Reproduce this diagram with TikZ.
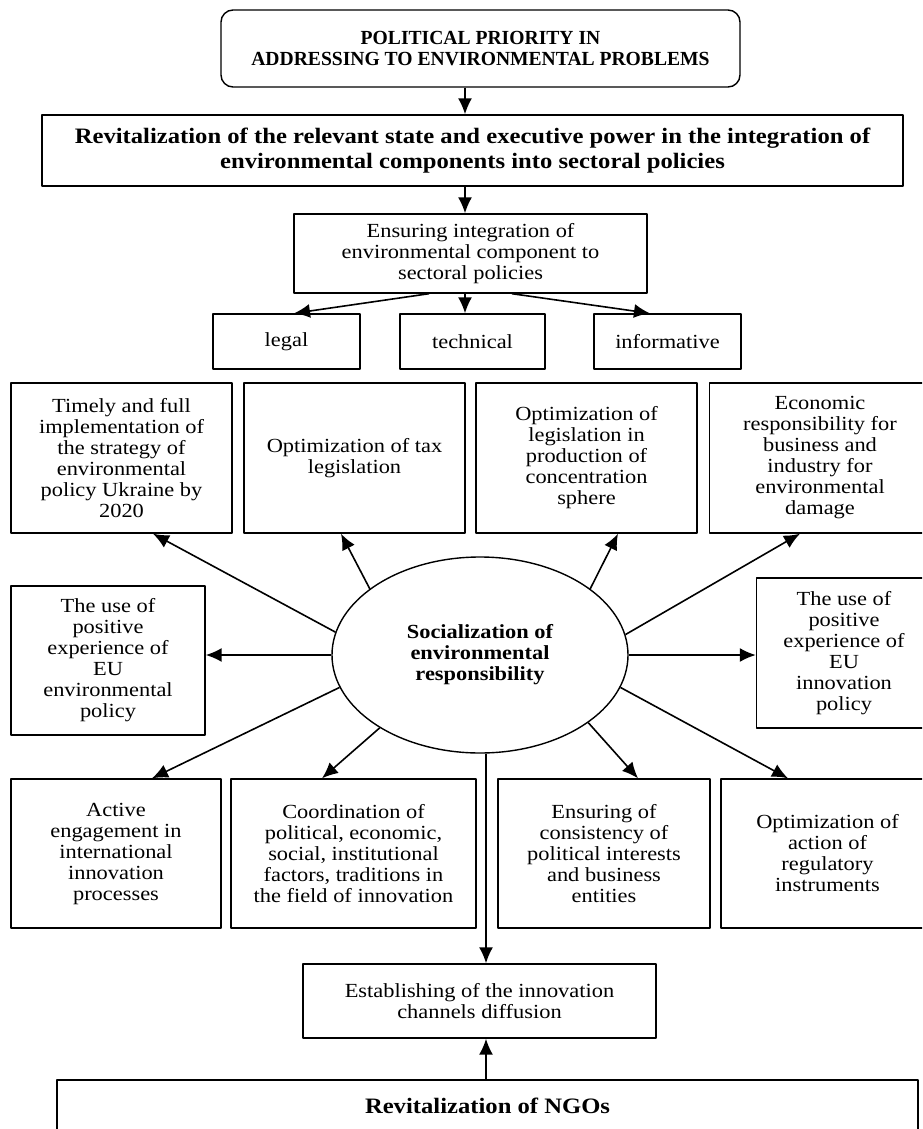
\documentclass[tikz,border=0pt]{standalone}
\usepackage{fontspec}
\setmainfont{Liberation Serif}[FakeStretch=1.12]
\newfontfamily\narrowfont{Liberation Serif}[FakeStretch=0.98]
\usetikzlibrary{arrows.meta,shapes.geometric}
\tikzset{
  box/.style={draw,line width=0.7pt,align=center,inner sep=1pt,font=\fontsize{10}{10.5}\selectfont},
  capsbox/.style={box,font=\narrowfont\bfseries\fontsize{10}{10.5}\selectfont},
  bigbox/.style={box,font=\bfseries\fontsize{11}{12.9}\selectfont},
  link/.style={->,line width=0.8pt},
}
\begin{document}
\begin{tikzpicture}[>={Latex[length=8pt,width=7pt]},line join=bevel,x={(0.5pt,0)},y={(0,-0.5pt)}]
\useasboundingbox (0,0) rectangle (922,1129);
\clip (0,0) rectangle (922,1129);
%%
\coordinate (axis) at (465,0);
\coordinate (stem) at (486,0);
\node (node_prio) at (480.5,48.5) [capsbox,rounded corners=6pt,minimum width=259.5pt,minimum height=38.5pt] {POLITICAL PRIORITY IN\\ADDRESSING TO ENVIRONMENTAL PROBLEMS};
  \node (node_revit) at (472.5,150.5) [bigbox,minimum width=430.5pt,minimum height=35.5pt] {Revitalization of the relevant state and executive power in the integration of\\environmental components into sectoral policies};
  \node (node_ensure) at (470.5,253.5) [box,minimum width=176.5pt,minimum height=39.5pt] {Ensuring integration of\\environmental component to\\sectoral policies};
  \node (node_legal) at (286.5,341.5) [box,minimum width=73.5pt,minimum height=27.5pt] {legal};
  \node (node_techn) at (472.5,341.5) [box,minimum width=72.5pt,minimum height=27.5pt] {technical};
  \node (node_inform) at (667.5,341.5) [box,minimum width=73.5pt,minimum height=27.5pt] {informative};
  \node (node_strat) at (121.5,458) [box,minimum width=110.5pt,minimum height=75pt] {Timely and full\\implementation of\\the strategy of\\environmental\\policy Ukraine by\\2020};
  \node (node_tax) at (354.5,458) [box,minimum width=110.5pt,minimum height=75pt] {Optimization of tax\\legislation};
  \node (node_conc) at (586.5,458) [box,minimum width=110.5pt,minimum height=75pt] {Optimization of\\legislation in\\production of\\concentration\\sphere};
  \node (node_econ) at (820,458) [box,minimum width=110.5pt,minimum height=75pt] {Economic\\responsibility for\\business and\\industry for\\environmental\\damage};
  \node (node_soc) at (480,655) [ellipse,draw,line width=0.7pt,inner sep=0pt,minimum width=148pt,minimum height=98pt,align=center,font=\bfseries\fontsize{10}{10.5}\selectfont] {Socialization of\\environmental\\responsibility};
  \node (node_euenv) at (108,660.5) [box,minimum width=97pt,minimum height=74.5pt] {The use of\\positive\\experience of\\EU\\environmental\\policy};
  \node (node_euinn) at (844,653) [box,minimum width=87.5pt,minimum height=75pt] {The use of\\positive\\experience of\\EU\\innovation\\policy};
  \node (node_active) at (116,853.5) [box,minimum width=105pt,minimum height=74.5pt] {Active\\engagement in\\international\\innovation\\processes};
  \node (node_coord) at (353.5,853.5) [box,minimum width=122.5pt,minimum height=74.5pt] {Coordination of\\political, economic,\\social, institutional\\factors, traditions in\\the field of innovation};
  \node (node_consist) at (604,853.5) [box,minimum width=106pt,minimum height=74.5pt] {Ensuring of\\consistency of\\political interests\\and business\\entities};
  \node (node_regul) at (827.5,853.5) [box,minimum width=106.5pt,minimum height=74.5pt] {Optimization of\\action of\\regulatory\\instruments};
  \node (node_estab) at (479.5,1001) [box,minimum width=176.5pt,minimum height=37pt] {Establishing of the innovation\\channels diffusion};
  \node (node_ngo) at (487.5,1106) [bigbox,minimum width=430.5pt,minimum height=26pt] {Revitalization of NGOs};
%
  \draw [link] (node_prio.south -| axis) -- (node_revit.north -| axis);
  \draw [link] (node_revit.south -| axis) -- (node_ensure.north -| axis);
  \draw [link] ([xshift=-20.75pt]node_ensure.south) -- ([xshift=3.75pt]node_legal.north);
  \draw [link] (node_ensure.south -| axis) -- (node_techn.north -| axis);
  \draw [link] ([xshift=20.75pt]node_ensure.south) -- ([xshift=-8.75pt]node_inform.north);
  \draw [link] (node_soc.171.5) -- ([xshift=15.75pt]node_strat.south);
  \draw [link] (node_soc.149) -- ([xshift=-6.75pt]node_tax.south);
  \draw [link] (node_soc.31) -- ([xshift=15.75pt]node_conc.south);
  \draw [link] (node_soc.8) -- ([xshift=-10pt]node_econ.south);
  \draw [link] (node_soc.west) -- (node_soc.west -| node_euenv.east);
  \draw [link] (node_soc.east) -- (node_soc.east -| node_euinn.west);
  \draw [link] (node_soc.193) -- ([xshift=18pt]node_active.north);
  \draw [link] (node_soc.216) -- ([xshift=-15.75pt]node_coord.north);
  \draw [link] (node_soc.328) -- ([xshift=17pt]node_consist.north);
  \draw [link] (node_soc.347) -- ([xshift=-19.75pt]node_regul.north);
  \draw [link] (node_soc.south -| stem) -- (node_estab.north -| stem);
  \draw [link] (node_ngo.north -| stem) -- (node_estab.south -| stem);
%
\end{tikzpicture}
\end{document}
